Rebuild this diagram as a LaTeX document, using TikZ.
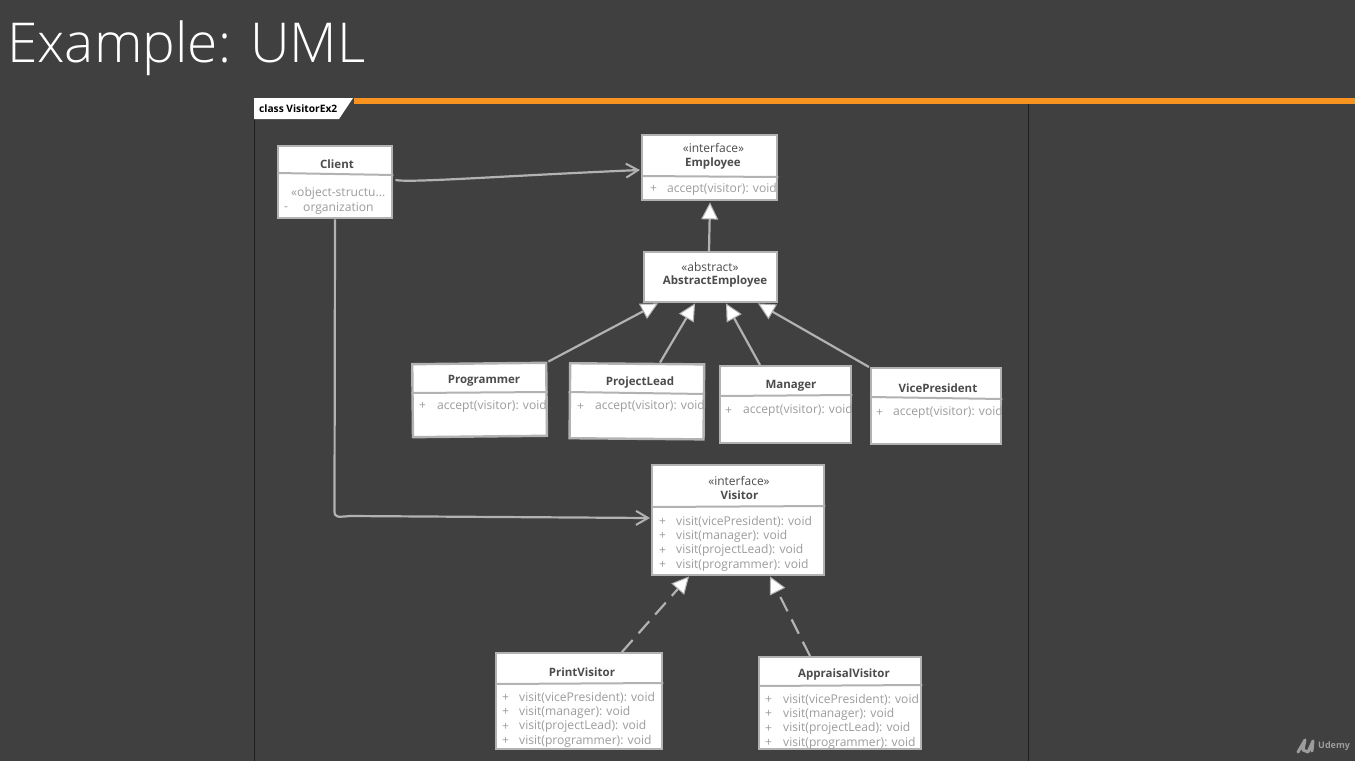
\documentclass[tikz,border=0pt]{standalone}
\usepackage{fontspec}
\setmainfont{Open Sans}
\newfontfamily\titlefont{Open Sans Light}
\usetikzlibrary{arrows.meta,calc}
\definecolor{bg}{HTML}{404040}
\definecolor{edgegray}{HTML}{B2B2B2}
\definecolor{textdark}{HTML}{4C4C4C}
\definecolor{textlight}{HTML}{9C9C9C}
\definecolor{orangebar}{HTML}{F7931E}
\definecolor{framedark}{HTML}{1E1E1E}
\tikzset{
  x=1pt,y=-1pt,
  classbox/.style={draw=edgegray,line width=2.4pt,fill=white,rectangle,inner sep=0pt,anchor=north west,xshift=-1pt,yshift=1pt},
  sepline/.style={draw=edgegray,line width=2pt},
  assoc/.style={draw=edgegray,line width=2.2pt,-{Straight Barb[length=12pt,width=14pt,line width=2pt]}},
  inherit/.style={draw=edgegray,line width=2.2pt,-{Triangle[length=17pt,width=17pt,fill=white,line width=1pt]}},
  realize/.style={inherit,dash pattern=on 16pt off 9pt},
  cname/.style={font=\fontsize{11.5}{14}\selectfont\bfseries,text=textdark,inner sep=0pt,yshift=-0.6pt},
  cster/.style={font=\fontsize{12}{14}\selectfont,text=textdark,inner sep=0pt},
  cmem/.style={font=\fontsize{12.1}{14}\selectfont,text=textlight,inner sep=0pt,anchor=west,yshift=-1.2pt},
}
\newcommand{\umlbox}[6]{% name x0 y0 x1 y1 rotate
  \node[classbox,minimum width=#4pt-#2pt,minimum height=#5pt-#3pt,rotate=#6] (#1) at (#2,#3) {};}
\newcommand{\lbl}[5]{\node[#4] (#1) at (#2,#3) {#5};}
\begin{document}
\begin{tikzpicture}
\useasboundingbox (0,0) rectangle (1355,761);
\fill[bg] (0,0) rectangle (1355,761);
\node[font=\titlefont\fontsize{55}{64}\selectfont,text=white,inner sep=0pt,anchor=west] (title) at (7,48) {Example: UML};
% frame
\coordinate (fa) at (254,118); \coordinate (fb) at (254,761);
\coordinate (fc) at (1028,103); \coordinate (fd) at (1028,761);
\draw[framedark,line width=1pt] (fa) -- (fb);
\draw[framedark,line width=1pt] (fc) -- (fd);
\fill[orangebar] (354,98) rectangle (1355,103.5);
\fill[white] (254,98) -- (353,98) -- (339,119) -- (254,119) -- cycle;
\node[font=\fontsize{10.2}{12}\selectfont\bfseries,text=black,inner sep=0pt,anchor=west] (frametitle) at (259,108.5) {class VisitorEx2};
% boxes
\umlbox{client}{278}{146}{392}{218}{0}
\umlbox{employee}{642}{135}{777}{200}{0}
\umlbox{abstract}{644}{252}{777}{302}{0}
\umlbox{programmer}{412}{364}{546}{437}{0.6}
\umlbox{projectlead}{570}{363}{704}{438}{-0.5}
\umlbox{manager}{720}{366}{851}{443}{0}
\umlbox{vicepresident}{871}{368}{1001}{444}{0}
\umlbox{visitor}{652}{465}{824}{575}{0}
\umlbox{printvisitor}{496}{653}{662}{749}{0}
\umlbox{appraisal}{759}{657}{921}{749}{0}
% separators
\draw[sepline] (client.west |- 0,173) -- (client.east |- 0,175);
\draw[sepline] (employee.west |- 0,176) -- (employee.east |- 0,177);
\draw[sepline] (programmer.west |- 0,393) -- (programmer.east |- 0,392);
\draw[sepline] (projectlead.west |- 0,392) -- (projectlead.east |- 0,394);
\draw[sepline] (manager.west |- 0,396) -- (manager.east |- 0,395);
\draw[sepline] (vicepresident.west |- 0,397) -- (vicepresident.east |- 0,399);
\draw[sepline] (visitor.west |- 0,507) -- (visitor.east |- 0,506);
\draw[sepline] (printvisitor.west |- 0,684) -- (printvisitor.east |- 0,683);
\draw[sepline] (appraisal.west |- 0,686) -- (appraisal.east |- 0,685);
% text
\lbl{tclient}{337}{163.5}{cname}{Client}
\lbl{tobj}{291}{192.5}{cmem}{«object-structu...}
\lbl{tminus}{284}{207.5}{cmem}{-}
\lbl{torg}{303}{207.5}{cmem}{organization}
\lbl{temps}{713.5}{148}{cster}{«interface»}
\lbl{temp}{713}{163}{cname}{Employee}
\lbl{tempp}{650}{188}{cmem}{+}
\lbl{tempm}{667}{188}{cmem}{accept(visitor): void}
\lbl{tabss}{710}{266.5}{cster}{«abstract»}
\lbl{tabs}{715}{281}{cname}{AbstractEmployee}
\lbl{tprog}{484}{380.5}{cname}{Programmer}
\lbl{tprogp}{419}{405}{cmem}{+}
\lbl{tprogm}{437}{405}{cmem}{accept(visitor): void}
\lbl{tproj}{640}{381.5}{cname}{ProjectLead}
\lbl{tprojp}{577}{405.5}{cmem}{+}
\lbl{tprojm}{595}{405.5}{cmem}{accept(visitor): void}
\lbl{tman}{791}{385.5}{cname}{Manager}
\lbl{tmanp}{725}{409.5}{cmem}{+}
\lbl{tmanm}{743}{409.5}{cmem}{accept(visitor): void}
\lbl{tvp}{938}{387.5}{cname}{VicePresident}
\lbl{tvpp}{876}{411.5}{cmem}{+}
\lbl{tvpm}{893}{411.5}{cmem}{accept(visitor): void}
\lbl{tviss}{739}{480.5}{cster}{«interface»}
\lbl{tvis}{739.5}{495}{cname}{Visitor}
\lbl{tv1p}{659}{520.5}{cmem}{+}
\lbl{tv1}{676}{520.5}{cmem}{visit(vicePresident): void}
\lbl{tv2p}{659}{535}{cmem}{+}
\lbl{tv2}{676}{535}{cmem}{visit(manager): void}
\lbl{tv3p}{659}{549.5}{cmem}{+}
\lbl{tv3}{676}{549.5}{cmem}{visit(projectLead): void}
\lbl{tv4p}{659}{564}{cmem}{+}
\lbl{tv4}{676}{564}{cmem}{visit(programmer): void}
\lbl{tpv}{582}{671.5}{cname}{PrintVisitor}
\lbl{tp1p}{502}{696.5}{cmem}{+}
\lbl{tp1}{519}{696.5}{cmem}{visit(vicePresident): void}
\lbl{tp2p}{502}{711}{cmem}{+}
\lbl{tp2}{519}{711}{cmem}{visit(manager): void}
\lbl{tp3p}{502}{725.5}{cmem}{+}
\lbl{tp3}{519}{725.5}{cmem}{visit(projectLead): void}
\lbl{tp4p}{502}{740}{cmem}{+}
\lbl{tp4}{519}{740}{cmem}{visit(programmer): void}
\lbl{tav}{844}{673.5}{cname}{AppraisalVisitor}
\lbl{ta1p}{765}{698.5}{cmem}{+}
\lbl{ta1}{783}{698.5}{cmem}{visit(vicePresident): void}
\lbl{ta2p}{765}{713}{cmem}{+}
\lbl{ta2}{783}{713}{cmem}{visit(manager): void}
\lbl{ta3p}{765}{727.5}{cmem}{+}
\lbl{ta3}{783}{727.5}{cmem}{visit(projectLead): void}
\lbl{ta4p}{765}{742}{cmem}{+}
\lbl{ta4}{783}{742}{cmem}{visit(programmer): void}
% connectors
\draw[assoc] ([xshift=2pt]client.east |- 0,180) .. controls (410,183) and (500,176) .. ([xshift=-1pt]employee.west |- 0,170);
\draw[assoc] (client.south -| 335,0) -- (334.5,511) .. controls (334.5,518) and (338,517) .. (350,516) -- ([xshift=-1pt]visitor.west |- 0,518);
\draw[inherit] (abstract.north -| 709,0) -- ([yshift=-1pt]employee.south -| 710,0);
\draw[inherit] (programmer.north east) ++(1,0) -- ([xshift=15pt]abstract.south west);
\draw[inherit] (projectlead.north -| 660,0) -- (abstract.south -| 695,0);
\draw[inherit] (manager.north -| 760,0) -- (abstract.south -| 726,0);
\draw[inherit] (vicepresident.north -| 869,0) -- (abstract.south -| 758,0);
\draw[realize] (printvisitor.north -| 622,0) -- (visitor.south -| 689,0);
\draw[realize] (appraisal.north -| 810,0) -- (visitor.south -| 770,0);
% logo
\coordinate (ua) at (1298,752); \coordinate (ub) at (1305,740); \coordinate (uc) at (1303,750);
\coordinate (ud) at (1308,752); \coordinate (ue) at (1313,741);
\draw[textlight,line width=3pt,line cap=round,line join=round] (ua) -- (ub) -- (uc) -- (ud) -- (ue) -- (1312,751);
\node[font=\fontsize{9}{11}\selectfont\bfseries,text=textlight,inner sep=0pt,anchor=west] (udemy) at (1318,746.5) {Udemy};
\end{tikzpicture}
\end{document}
